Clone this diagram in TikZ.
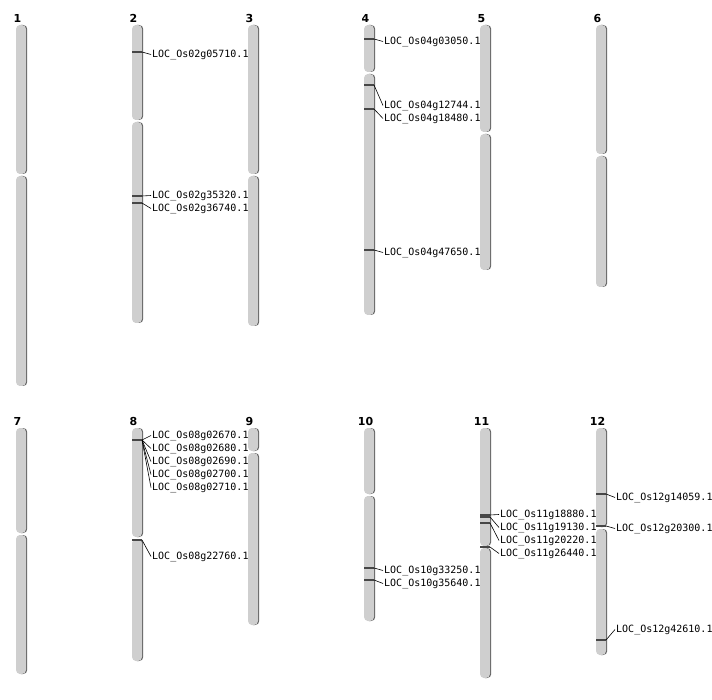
\documentclass[tikz,border=0pt]{standalone}
\usepackage{fontspec}
\setmainfont{DejaVu Sans}
\setmonofont{DejaVu Sans Mono}
\usetikzlibrary{calc}

\begin{document}
\begin{tikzpicture}[x=1pt,y=-1pt,
                chrnum/.style={anchor=south,inner sep=0pt,font=\bfseries\fontsize{11}{13}\selectfont},
                gene/.style={anchor=west,inner sep=1pt,yshift=-1.5pt,font=\ttfamily\fontsize{10}{12}\selectfont},
                marker/.style={draw=black!72,line width=1.3pt},
                link/.style={draw=black,line width=0.6pt},
                arm/.style={rounded corners=4pt,fill=black!19},
                armshadow/.style={rounded corners=4pt,fill=black!62}]
	\useasboundingbox (0,0) rectangle (712,700);

	% chromosomes: number/left x/top/centromere/bottom
	\foreach \n/\cx/\top/\cen/\bot in {1/16/25/175/386, 2/132/25/121/323, 3/248/25/175/326,
	        4/364/25/73/315, 5/480/25/133/270, 6/596/25/155/287,
	        7/16/428/534/674, 8/132/428/538/661, 9/248/428/452/625,
	        10/364/428/495/621, 11/480/428/547/678, 12/596/428/528/655}
	{
		\fill[armshadow] (\cx+1.2,\top) rectangle (\cx+11.2,\cen-1);
		\fill[armshadow] (\cx+1.2,\cen+1) rectangle (\cx+11.2,\bot);
		\fill[arm] (\cx,\top) rectangle (\cx+10,\cen-1);
		\fill[arm] (\cx,\cen+1) rectangle (\cx+10,\bot);
		\node[chrnum] (c\n) at (\cx+1.5,\top-2.5) {\n};
	}

	% genes: left x of chromosome/marker y/label y/name
	\foreach \cx/\my/\ly/\txt [count=\i] in {
	        132/52/53/LOC\_Os02g05710.1, 132/196/194/LOC\_Os02g35320.1, 132/203/207/LOC\_Os02g36740.1,
	        364/39/40/LOC\_Os04g03050.1, 364/85/104/LOC\_Os04g12744.1, 364/109/117/LOC\_Os04g18480.1,
	        364/250/251/LOC\_Os04g47650.1,
	        132/440/434/LOC\_Os08g02670.1, 132/440/447/LOC\_Os08g02680.1, 132/440/460/LOC\_Os08g02690.1,
	        132/440/473/LOC\_Os08g02700.1, 132/440/486/LOC\_Os08g02710.1, 132/540/555/LOC\_Os08g22760.1,
	        364/568/569/LOC\_Os10g33250.1, 364/580/582/LOC\_Os10g35640.1,
	        480/515/513/LOC\_Os11g18880.1, 480/517/526/LOC\_Os11g19130.1, 480/523/539/LOC\_Os11g20220.1,
	        480/547/552/LOC\_Os11g26440.1,
	        596/494/496/LOC\_Os12g14059.1, 596/526/527/LOC\_Os12g20300.1, 596/640/628/LOC\_Os12g42610.1}
	{
		\coordinate (m\i) at (\cx+10,\my);
		\node[gene] (g\i) at (\cx+19,\ly) {\txt};
		\draw[marker] (m\i) -- ++(-10,0);
		\draw[link] (m\i) -- (g\i.west);
	}
\end{tikzpicture}
\end{document}
